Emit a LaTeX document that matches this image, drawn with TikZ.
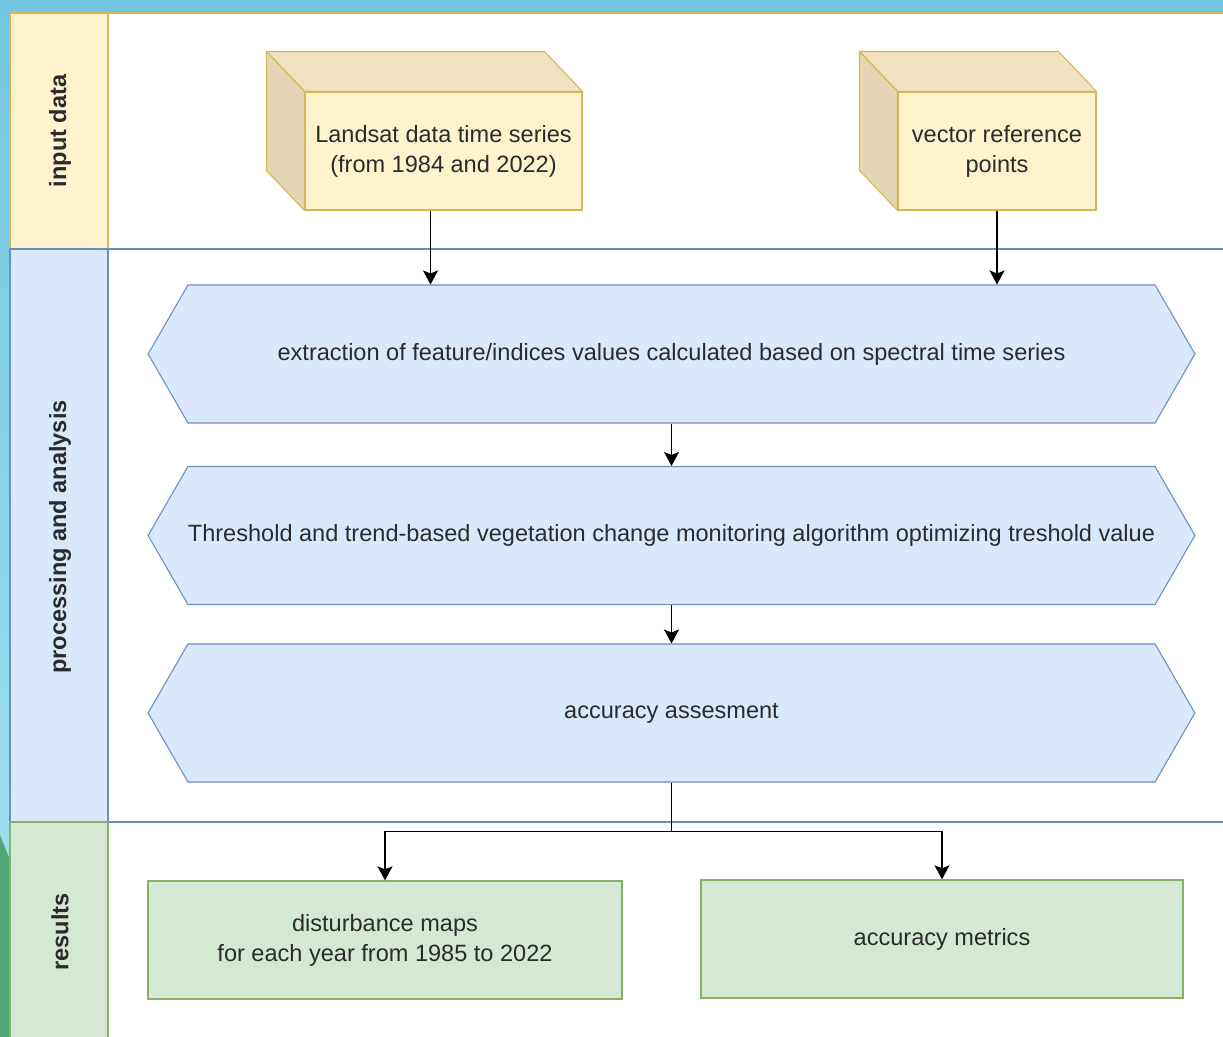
\documentclass[tikz,border=0pt]{standalone}
\usepackage{fontspec}
\setmainfont{Liberation Sans}
\usepackage{xcolor}
\usetikzlibrary{arrows.meta,calc,positioning,shapes.symbols}
\definecolor{ink}{HTML}{2B2B2B}
\definecolor{inputfill}{HTML}{FFF2CC}
\definecolor{inputline}{HTML}{D6B656}
\definecolor{inputtop}{HTML}{EFE2C0}
\definecolor{inputside}{HTML}{E5D6B3}
\definecolor{procfill}{HTML}{DAE8FC}
\definecolor{procline}{HTML}{6C8EBF}
\definecolor{resfill}{HTML}{D5E8D4}
\definecolor{resline}{HTML}{82B366}
\definecolor{skytop}{HTML}{72C6E0}
\definecolor{skybottom}{HTML}{A6E2F2}
\definecolor{leaf}{HTML}{4FA872}
\tikzset{
	txt/.style={font=\fontsize{13.4}{17}\selectfont, text=ink, align=center},
	lanelabel/.style={txt, font=\fontsize{13.4}{17}\selectfont\bfseries, rotate=90},
	cubeface/.style={txt, draw=inputline, fill=inputfill, line width=0.6pt,
			minimum width=#1, minimum height=2.36cm, inner sep=0pt},
	stage/.style={txt, shape=signal, signal from=nowhere, signal to=east and west,
			signal pointer angle=120, draw=procline, fill=procfill, line width=0.6pt,
			minimum width=20.94cm, minimum height=2.76cm, inner sep=0pt},
	resultbox/.style={txt, draw=resline, fill=resfill, line width=0.8pt,
			minimum width=#1, minimum height=2.36cm, inner sep=0pt},
	flow/.style={-{Stealth[length=0.28cm, width=0.3cm, inset=0.06cm]}, line width=0.9pt, black}
}

\begin{document}
\begin{tikzpicture}[x=0.02cm, y=-0.02cm]
		\useasboundingbox (0,0) rectangle (1223,1037);

		% background behind the pool
		\shade [top color=skytop, bottom color=skybottom] (0,0) rectangle (1223,1037);
		\fill [leaf] (0,835) -- (10,860) -- (10,1037) -- (0,1037) -- cycle;
		\fill [white] (108,13) rectangle (1223,1037);

		% lanes
		\filldraw [fill=inputfill, draw=inputline, line width=0.6pt]	(10,13) rectangle (108,249);
		\filldraw [fill=procfill, draw=procline, line width=0.6pt]	(10,249) rectangle (108,822);
		\filldraw [fill=resfill, draw=resline, line width=0.6pt]	(10,822) rectangle (108,1040);
		\draw [inputline, line width=0.6pt]	(108,13) -- (1223,13);
		\draw [procline, line width=0.6pt]	(108,249) -- (1223,249)
							(108,822) -- (1223,822);

		\node [lanelabel] (laneinput) at (60,131) {input data};
		\node [lanelabel] (laneproc) at (60,537) {processing and analysis};
		\node [lanelabel] (laneres) at (60,932) {results};

		% input data
		\node [cubeface=5.54cm] (landsat) at (443.5,151) {Landsat data time series\\(from 1984 and 2022)};
		\node [cubeface=3.96cm] (vector) at (997,151) {vector reference\\points};
		\foreach \c in {landsat, vector} {
			\filldraw [fill=inputtop, draw=inputline, line width=0.6pt, line join=round]
				(\c.north west) -- ++(-38,-40) -- ($(\c.north east)+(-38,-40)$) -- (\c.north east) -- cycle;
			\filldraw [fill=inputside, draw=inputline, line width=0.6pt, line join=round]
				(\c.north west) -- ++(-38,-40) -- ($(\c.south west)+(-38,-40)$) -- (\c.south west) -- cycle;
		}

		% processing
		\node [stage] (extract) at (671.5,354) {extraction of feature/indices values calculated based on spectral time series};
		\node [stage] (threshold) at (671.5,535.5) {Threshold and trend-based vegetation change monitoring algorithm optimizing treshold value};
		\node [stage] (accuracy) at (671.5,713) {accuracy assesment};

		% results
		\node [resultbox=9.48cm] (maps) at (385,940) {disturbance maps\\for each year from 1985 to 2022};
		\node [resultbox=9.64cm] (metrics) at (942,939) {accuracy metrics};

		\draw [flow]	([xshift=-0.26cm]landsat.south) -- ([xshift=-0.26cm]landsat.south |- extract.north);
		\draw [flow]	(vector.south) -- (vector.south |- extract.north);
		\draw [flow]	(extract.south) -- (threshold.north);
		\draw [flow]	(threshold.south) -- (accuracy.north);
		\draw [flow]	(accuracy.south) -- ++(0,49) coordinate (split) -| (maps.north);
		\draw [flow]	(split) -| (metrics.north);
	\end{tikzpicture}
\end{document}
